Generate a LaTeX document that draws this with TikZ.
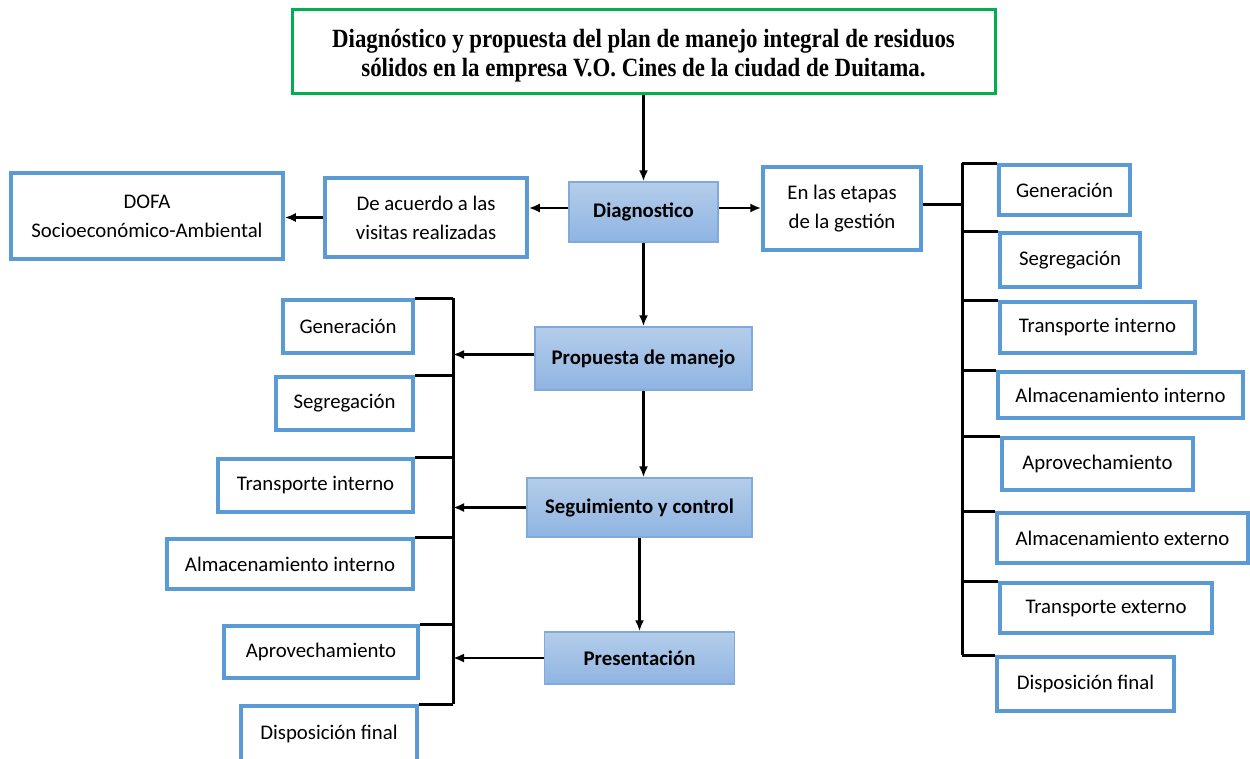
\documentclass[tikz,border=0pt]{standalone}
\usepackage{fontspec}
\setmainfont{Carlito}
\newfontfamily\titlefont{Liberation Serif}[FakeStretch=0.87]
\usetikzlibrary{arrows.meta}
\definecolor{boxblue}{HTML}{5B9BD5}
\definecolor{titlegreen}{HTML}{00B050}
\definecolor{ctop}{HTML}{B4CDEA}
\definecolor{cbot}{HTML}{8FB4E2}
\definecolor{cdraw}{HTML}{80AADB}
\tikzset{
  wbox/.style={draw=boxblue, line width=3.5pt, fill=white, inner sep=0pt, align=center,
    font=\fontsize{20.8}{29}\selectfont},
  cbox/.style={draw=cdraw, line width=1.5pt, top color=ctop, bottom color=cbot, inner sep=0pt,
    align=center, font=\fontsize{20.8}{29}\selectfont\bfseries},
  tbox/.style={draw=titlegreen, line width=3pt, fill=white, inner sep=0pt},
  ttext/.style={inner sep=0pt, align=center, font=\titlefont\fontsize{26.3}{29}\selectfont\bfseries},
  arr/.style={line width=2.7pt, -{Latex[length=11pt,width=9pt]}},
  bus/.style={line width=3pt},
}
\begin{document}
\begin{tikzpicture}[x=1pt,y=-1pt]
\useasboundingbox (0,0) rectangle (1250,758);
% title
\node[tbox, minimum width=703pt, minimum height=84pt] (title) at (643.5,51) {};
\node[ttext] (titletext) at (643.5,56)
  {Diagnóstico y propuesta del plan de manejo integral de residuos\\sólidos en la empresa V.O. Cines de la ciudad de Duitama.};
% center column
\node[cbox, minimum width=149pt, minimum height=60pt] (diag) at (643.5,212) {Diagnostico};
\node[cbox, minimum width=217pt, minimum height=63pt] (prop) at (643.5,358.5) {Propuesta de manejo};
\node[cbox, minimum width=225pt, minimum height=59pt] (seg) at (639.5,507.5) {Seguimiento y control};
\node[cbox, minimum width=190pt, minimum height=52pt] (pres) at (639.5,658) {Presentación};
% top row
\node[wbox, minimum width=202pt, minimum height=79pt] (deac) at (426,217.5) {De acuerdo a las\\visitas realizadas};
\node[wbox, minimum width=272pt, minimum height=86pt] (dofa) at (147,216) {DOFA\\Socioeconómico-Ambiental};
\node[wbox, minimum width=158pt, minimum height=83pt] (etap) at (842,208.5) {En las etapas\\de la gestión};
% right column
\node[wbox, minimum width=131pt, minimum height=50pt] (r1) at (1064.5,190) {Generación};
\node[wbox, minimum width=140pt, minimum height=54pt] (r2) at (1070,260) {Segregación};
\node[wbox, minimum width=195pt, minimum height=51pt] (r3) at (1097.5,327.5) {Transporte interno};
\node[wbox, minimum width=245pt, minimum height=46pt] (r4) at (1120.5,395) {Almacenamiento interno};
\node[wbox, minimum width=191pt, minimum height=52pt] (r5) at (1097.5,464) {Aprovechamiento};
\node[wbox, minimum width=251pt, minimum height=50pt] (r6) at (1122.5,538) {Almacenamiento externo};
\node[wbox, minimum width=212pt, minimum height=50pt] (r7) at (1106,608) {Transporte externo};
\node[wbox, minimum width=177pt, minimum height=54pt] (r8) at (1085.5,684) {Disposición final};
% left column
\node[wbox, minimum width=130pt, minimum height=53pt] (l1) at (348,326.5) {Generación};
\node[wbox, minimum width=137pt, minimum height=53pt] (l2) at (344.5,403.5) {Segregación};
\node[wbox, minimum width=195pt, minimum height=53pt] (l3) at (315.5,485.5) {Transporte interno};
\node[wbox, minimum width=246pt, minimum height=50pt] (l4) at (290,564) {Almacenamiento interno};
\node[wbox, minimum width=194pt, minimum height=52pt] (l5) at (321,652) {Aprovechamiento};
\node[wbox, minimum width=176pt, minimum height=56pt] (l6) at (329,734) {Disposición final};
% bus coordinates
\coordinate (rbus) at (962,0);
\coordinate (lbus) at (453,0);
% main arrows
\draw[arr] (title.south) -- (diag.north);
\draw[arr] (diag.south) -- (prop.north);
\draw[arr] (prop.south) -- (prop.south |- seg.north);
\draw[arr] (seg.south) -- (pres.north);
\draw[arr] ([yshift=4pt]diag.west) -- ([yshift=4pt]diag.west -| deac.east);
\draw[arr] (deac.west) -- (deac.west -| dofa.east);
\draw[arr] ([yshift=4pt]diag.east) -- ([yshift=4pt]diag.east -| etap.west);
% right bus
\draw[bus] ([yshift=4pt]etap.east) -- ([yshift=4pt]etap.east -| rbus);
\draw[bus] (rbus |- r1.north west) -- (rbus |- r8.north west);
\foreach \n in {r1,r2,r3,r4,r5,r6,r7,r8}
  \draw[bus] (rbus |- \n.north west) -- (\n.north west);
% left bus
\draw[bus] (lbus |- l1.north east) -- (lbus |- l6.north east);
\foreach \n in {l1,l2,l3,l4,l5,l6}
  \draw[bus] (\n.north east) -- (lbus |- \n.north east);
\draw[arr] ([yshift=4pt]prop.west) -- ([yshift=4pt]prop.west -| lbus);
\draw[arr] (seg.west) -- (seg.west -| lbus);
\draw[arr] (pres.west) -- (pres.west -| lbus);
\end{tikzpicture}
\end{document}
